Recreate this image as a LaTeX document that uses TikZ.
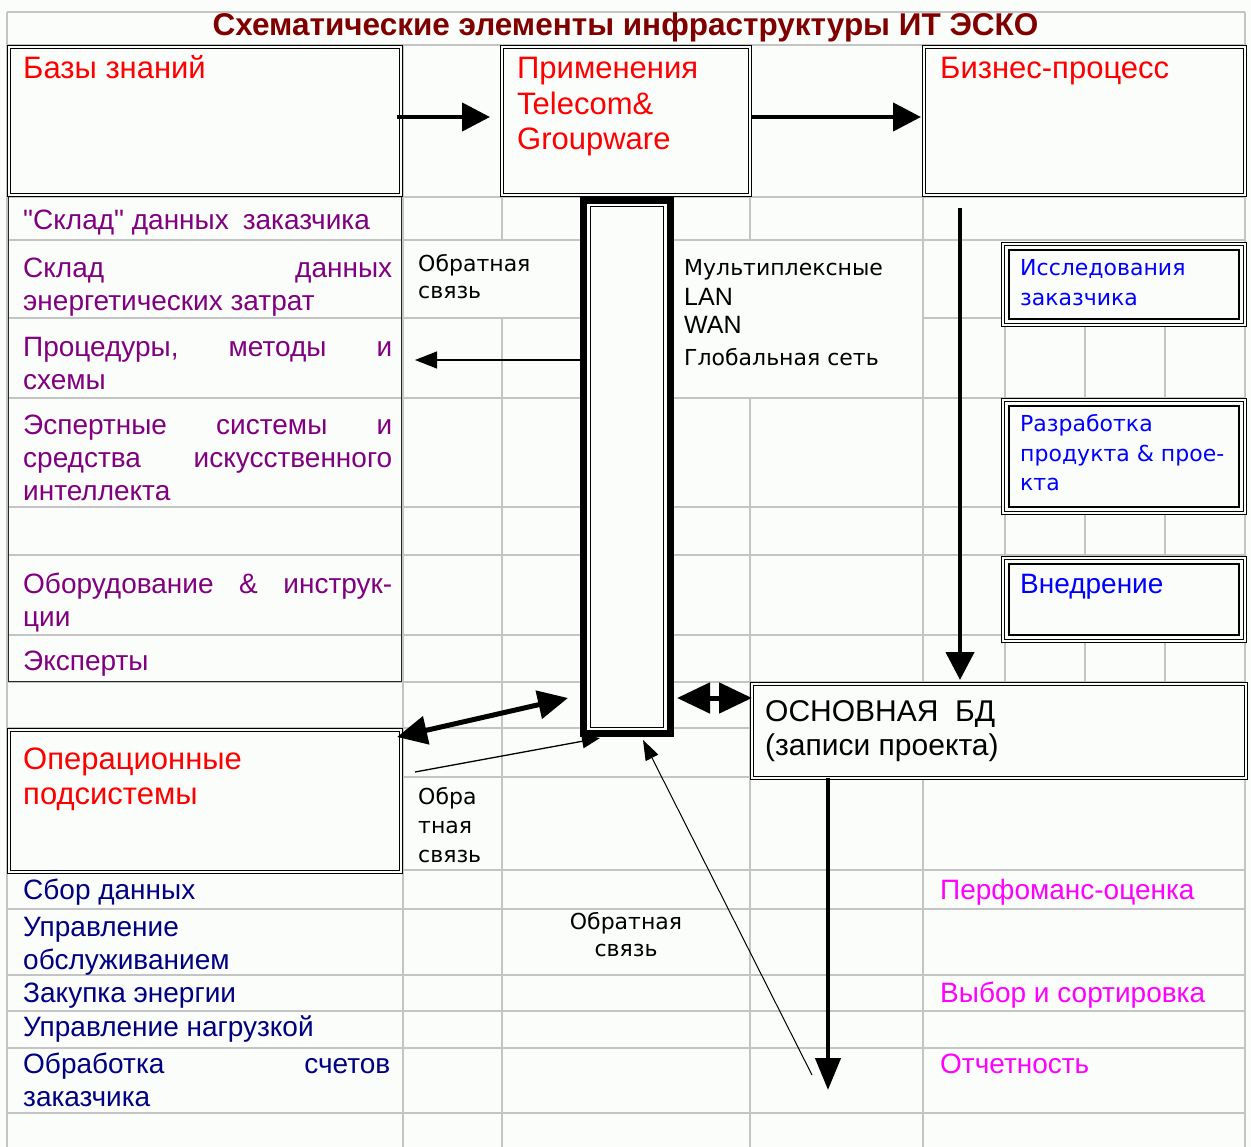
\documentclass[tikz,border=0pt]{standalone}
\usepackage{fontspec}
\setmainfont{Liberation Sans}
\newfontfamily\dvfont{DejaVu Sans}
\newfontfamily\qfont{Liberation Sans}
\usetikzlibrary{arrows.meta}
\definecolor{bg}{RGB}{251,253,251}
\definecolor{gridc}{RGB}{196,196,196}
\definecolor{titlered}{RGB}{128,0,0}
\definecolor{hred}{RGB}{255,0,0}
\definecolor{lpurple}{RGB}{128,0,128}
\definecolor{lnavy}{RGB}{0,0,128}
\definecolor{lblue}{RGB}{0,0,255}
\definecolor{lmag}{RGB}{255,0,255}
\newcommand\hfnt{\fontsize{31}{35.5}\selectfont}
\newcommand\lfnt{\fontsize{28}{33}\selectfont}
\newcommand\sfnt{\dvfont\fontsize{22}{27}\selectfont}
\newcommand\bfnt{\dvfont\fontsize{22}{29.5}\selectfont}
\newcommand\sq{{\qfont\symbol{34}}}
\begin{document}
\begin{tikzpicture}[x=1pt,y=-1pt,line join=miter,
  gridl/.style={draw=gridc,line width=1.3pt},
  dbox/.style={draw=black,line width=1.2pt,double=bg,double distance=2.4pt,fill=bg,inner sep=0pt,outer sep=0pt,anchor=north west},
  tbox/.style={draw=black,line width=1.1pt,double=bg,double distance=2.6pt,fill=bg,inner sep=0pt,outer sep=0pt,anchor=north west},
  colbox/.style={draw=black,line width=7pt,fill=bg,inner sep=0pt,outer sep=0pt,anchor=north west},
  txt/.style={inner sep=0pt,anchor=base west},
  bigarrow/.style={line width=4.5pt,-{Triangle[length=28pt,width=28pt]}},
  thinarrow/.style={line width=1.2pt,-{Triangle[length=22pt,width=17pt]}}]
\useasboundingbox (0,0) rectangle (1251,1147);
\fill[bg] (0,0) rectangle (1251,1147);
% grid lines
\foreach \yy in {12,45,197,240,398,507,555,635,682,728,777,870,909,975,1011,1048,1113}
  \draw[gridl] (7,\yy) -- (1245,\yy);
\draw[gridl] (7,318) -- (583,318);
\draw[gridl] (923,318) -- (1245,318);
\draw[gridl] (7,12) -- (7,1147);
\draw[gridl] (1245,12) -- (1245,1147);
\draw[gridl] (403,45) -- (403,1147);
\draw[gridl] (502,197) -- (502,240);
\draw[gridl] (502,318) -- (502,1147);
\draw[gridl] (750,197) -- (750,240);
\draw[gridl] (750,398) -- (750,1147);
\draw[gridl] (923,197) -- (923,1147);
\foreach \xx in {1005,1085,1165} {
  \draw[gridl] (\xx,318) -- (\xx,398);
  \draw[gridl] (\xx,507) -- (\xx,555);
  \draw[gridl] (\xx,635) -- (\xx,682);
}
% list frame
\node[draw=black!85,line width=1.4pt,inner sep=0pt,outer sep=0pt,anchor=north west,minimum width=393pt,minimum height=485pt] (lst) at (8.5,196.5) {};
% network column
\node[colbox,minimum width=87pt,minimum height=533pt] (col) at (583.5,200.5) {};
\draw[line width=1.1pt] ([shift={(7,6)}]col.north west) rectangle ([shift={(-7,-6)}]col.south east);
% boxes
\node[dbox,minimum width=392pt,minimum height=148pt] (kb) at (9,47) {};
\node[dbox,minimum width=248pt,minimum height=148pt] (app) at (502,47) {};
\node[dbox,minimum width=321pt,minimum height=148pt] (bp) at (924,47) {};
\node[dbox,minimum width=494pt,minimum height=94pt] (bd) at (752,684) {};
\node[dbox,minimum width=392pt,minimum height=142pt] (op) at (9,730) {};
\node[tbox,minimum width=242pt,minimum height=81pt] (r1) at (1003,244) {};
\node[tbox,minimum width=242pt,minimum height=113pt] (r2) at (1003,400) {};
\node[tbox,minimum width=242pt,minimum height=83pt] (r3) at (1003,558) {};
\foreach \b in {r1,r2,r3}
  \draw[line width=1.1pt] ([shift={(6,6)}]\b.north west) rectangle ([shift={(-6,-6)}]\b.south east);
% title
\node[inner sep=0pt,anchor=base,text=titlered,font=\fontsize{31.5}{36}\selectfont\bfseries] (title) at (625.5,36) {Схематические элементы инфраструктуры ИТ ЭСКО};
% headings
\node[txt,text=hred,font=\hfnt] (kbt) at (23,79) {Базы знаний};
\node[txt,text=hred,font=\hfnt] (appt) at (517,79) {\parbox[t]{230pt}{Применения\\Telecom\&\\Groupware}};
\node[txt,text=hred,font=\hfnt] (bpt) at (940,79) {Бизнес-процесс};
\node[txt,text=hred,font=\hfnt] (opt) at (23,769) {\parbox[t]{370pt}{Операционные\\подсистемы}};
\node[txt,font=\fontsize{30}{34.5}\selectfont] (bdt) at (765,721) {\parbox[t]{470pt}{ОСНОВНАЯ\ \ БД\\(записи проекта)}};
% purple list
\node[txt,text=lpurple,font=\lfnt] (l1) at (23,230) {\sq Склад\sq{} данных\enspace заказчика};
\node[txt,text=lpurple,font=\lfnt] (l2) at (23,278) {\parbox[t]{369pt}{Склад\hfill данных\\энергетических затрат}};
\node[txt,text=lpurple,font=\lfnt] (l3) at (23,357) {\parbox[t]{369pt}{Процедуры,\hfill методы\hfill и\\схемы}};
\node[txt,text=lpurple,font=\lfnt] (l4) at (23,435) {\parbox[t]{369pt}{Эспертные\hfill системы\hfill и\\средства\hfill искусственного\\интеллекта}};
\node[txt,text=lpurple,font=\lfnt] (l5) at (23,593) {\parbox[t]{369pt}{Оборудование\hfill \&\hfill инструк-\\ции}};
\node[txt,text=lpurple,font=\lfnt] (l6) at (23,670) {Эксперты};
% navy list
\node[txt,text=lnavy,font=\lfnt] (n1) at (23,899) {Сбор данных};
\node[txt,text=lnavy,font=\lfnt] (n2) at (23,936) {\parbox[t]{369pt}{Управление\\обслуживанием}};
\node[txt,text=lnavy,font=\lfnt] (n3) at (23,1002) {Закупка энергии};
\node[txt,text=lnavy,font=\lfnt] (n4) at (23,1036) {Управление нагрузкой};
\node[txt,text=lnavy,font=\lfnt] (n5) at (23,1073) {\parbox[t]{367pt}{Обработка\hfill счетов\\заказчика}};
% magenta list
\node[txt,text=lmag,font=\lfnt] (m1) at (940,899) {Перфоманс-оценка};
\node[txt,text=lmag,font=\lfnt] (m2) at (940,1002) {Выбор и сортировка};
\node[txt,text=lmag,font=\lfnt] (m3) at (940,1073) {Отчетность};
% blue boxes text
\node[txt,text=lblue,font=\bfnt] (r1t) at (1020,276) {\parbox[t]{220pt}{Исследования\\заказчика}};
\node[txt,text=lblue,font=\bfnt] (r2t) at (1020,432) {\parbox[t]{220pt}{Разработка\\продукта \& прое-\\кта}};
\node[txt,text=lblue,font=\fontsize{28}{33}\selectfont] (r3t) at (1020,593) {Внедрение};
% small black labels
\node[txt,font=\sfnt] (fb1) at (418,272) {\parbox[t]{160pt}{Обратная\\связь}};
\node[txt,font=\sfnt] (net1) at (684,276) {Мультиплексные};
\node[txt,font=\fontsize{25}{28}\selectfont] (net2) at (684,306) {LAN};
\node[txt,font=\fontsize{25}{28}\selectfont] (net3) at (684,334) {WAN};
\node[txt,font=\sfnt] (net4) at (684,366) {Глобальная сеть};
\node[txt,font=\dvfont\fontsize{22}{29}\selectfont] (fb2) at (418,804) {\parbox[t]{80pt}{Обра\\тная\\связь}};
\node[inner sep=0pt,anchor=base,font=\sfnt] (fb3) at (626,929) {\parbox[t]{200pt}{\centering Обратная\\связь}};
% coordinates for free ends
\coordinate (fbL) at (415,360);
\coordinate (fbOp) at (415,772);
\coordinate (fbB) at (812,1075);
\coordinate (repEnd) at (828,1090);
% arrows
\draw[bigarrow] ([shift={(-4,-4)}]kb.east) -- ([shift={(-12,-4)}]app.west);
\draw[bigarrow] ([shift={(2,-4)}]app.east) -- ([shift={(-3,-4)}]bp.west);
\draw[bigarrow] ([shift={(36,13)}]bp.south west) -- ([shift={(208,-4)}]bd.north west);
\draw[line width=4.5pt,-{Triangle[length=32pt,width=25pt]}] ([shift={(76,0)}]bd.south west) -- (repEnd);
\draw[thinarrow] ([shift={(-3.5,-107)}]col.west) -- (fbL);
\draw[line width=5pt,{Triangle[length=30pt,width=28pt]}-{Triangle[length=30pt,width=28pt]}] ([shift={(-4,7)}]op.north east) -- ([shift={(-15.5,-35.5)}]col.south west);
\draw[line width=1.3pt,-{Triangle[length=18pt,width=14pt]}] (fbOp) -- ([shift={(16.5,4.5)}]col.south west);
\draw[line width=5pt,{Triangle[length=33pt,width=30pt]}-{Triangle[length=33pt,width=30pt]}] ([shift={(6.5,-35.5)}]col.south east) -- ([shift={(0,14)}]bd.north west);
\draw[line width=1pt,-{Triangle[length=20pt,width=14pt]}] (fbB) -- ([shift={(16,6.5)}]col.south);
\end{tikzpicture}
\end{document}
